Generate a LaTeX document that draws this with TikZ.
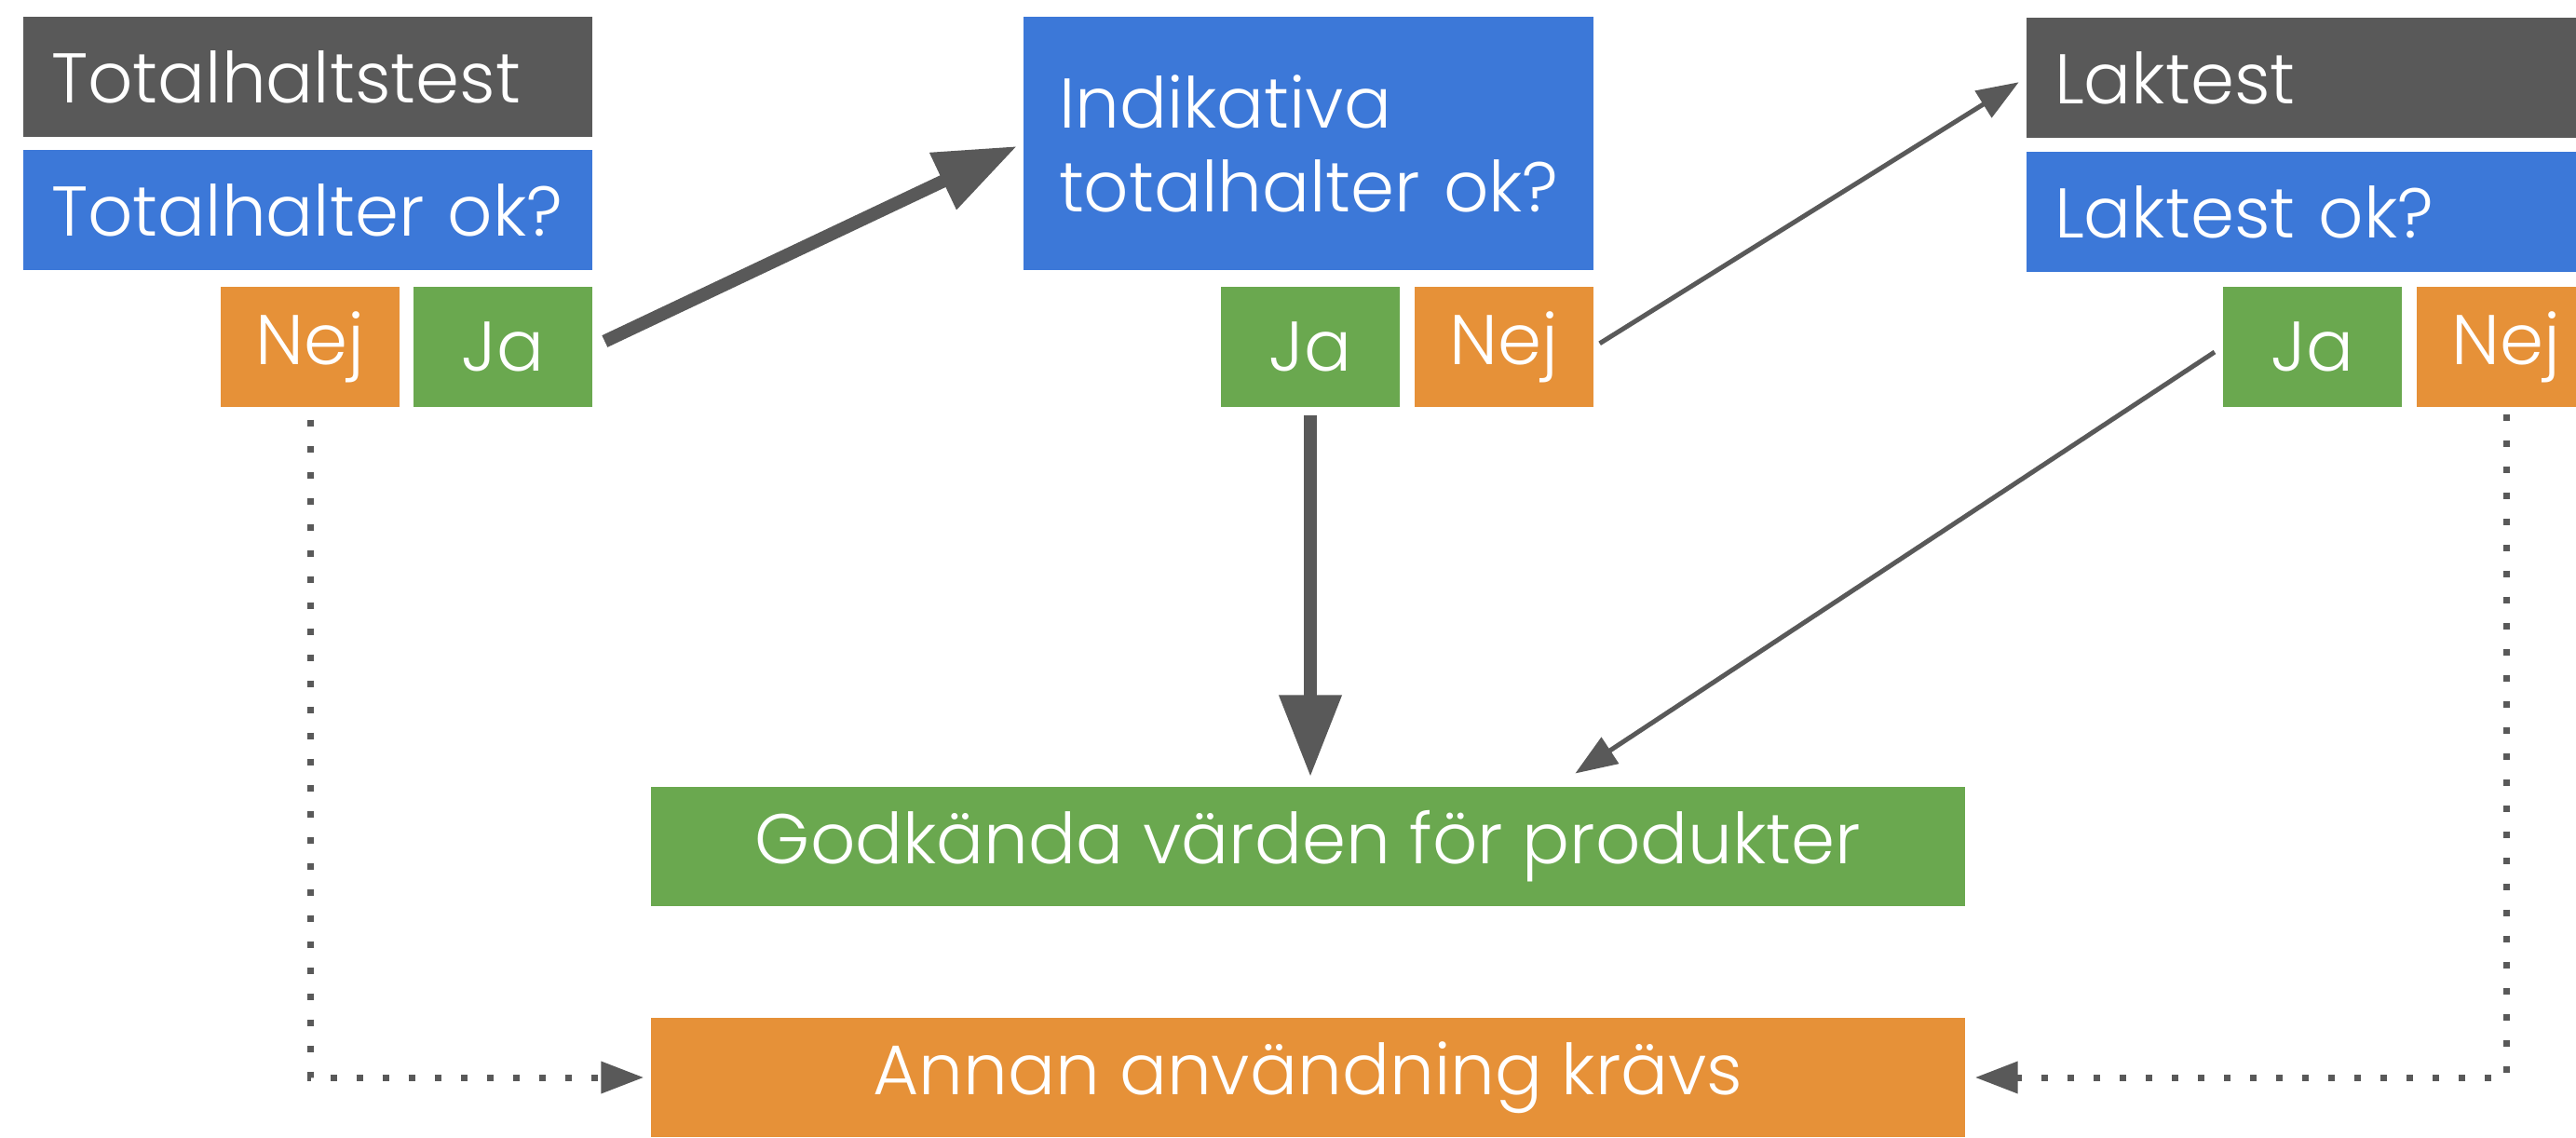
\documentclass[tikz,border=0pt]{standalone}
\usepackage{fontspec}
\setmainfont{Poppins}[UprightFont=* Light]
\usetikzlibrary{arrows.meta}

\definecolor{mork}{HTML}{595959}
\definecolor{bla}{HTML}{3C78D8}
\definecolor{ora}{HTML}{E69138}
\definecolor{gron}{HTML}{6AA84F}

\begin{document}
\begin{tikzpicture}[pil/.style={-{Triangle[length=0.45cm, width=0.33cm]}, line width=0.05cm, draw=mork},
        tjock/.style={-{Triangle[length=0.88cm, width=0.64cm]}, line width=0.14cm, draw=mork},
        prickad/.style={-{Triangle[length=0.46cm, width=0.33cm]}, line width=0.07cm, draw=mork, dash pattern=on 0.07cm off 0.21cm}]
        \tikzset{ruta/.style={rectangle, minimum height=1.29cm, text width=5.51cm, inner xsep=0.3cm, inner ysep=0pt, align=left, text=white, font=\fontsize{21.5}{25.6}\selectfont}};
        \tikzset{svar/.style={rectangle, minimum height=1.29cm, minimum width=1.92cm, inner sep=0pt, text=white, font=\fontsize{21.5}{25.6}\selectfont}};
        \tikzset{bred/.style={rectangle, minimum height=1.28cm, minimum width=14.11cm, inner sep=0pt, text=white, font=\fontsize{21.5}{25.6}\selectfont}};

        \useasboundingbox (0, 0) rectangle (27.66, 12.21);

        % vänster
        \node[ruta, fill=mork] (tt) at (3.305, 11.385) {Totalhaltstest};
        \node[ruta, fill=bla] (tok) at (3.305, 9.95) {Totalhalter~ok?};
        \node[svar, fill=ora] (nej1) at (3.33, 8.485) {Nej};
        \node[svar, fill=gron] (ja1) at (5.40, 8.485) {Ja};

        % mitten
        \node[ruta, fill=bla, minimum height=2.72cm, text width=5.36cm, inner xsep=0.38cm] (ind) at (14.05, 10.67) {Indikativa\\totalhalter~ok?};
        \node[svar, fill=gron] (ja2) at (14.07, 8.485) {Ja};
        \node[svar, fill=ora] (nej2) at (16.15, 8.485) {Nej};

        % höger
        \node[ruta, fill=mork] (lak) at (24.815, 11.375) {Laktest};
        \node[ruta, fill=bla] (lok) at (24.815, 9.935) {Laktest~ok?};
        \node[svar, fill=gron] (ja3) at (24.83, 8.485) {Ja};
        \node[svar, fill=ora] (nej3) at (26.91, 8.485) {Nej};

        % resultat
        \node[bred, fill=gron] (god) at (14.045, 3.12) {Godkända värden för produkter};
        \node[bred, fill=ora] (ann) at (14.045, 0.64) {Annan användning krävs};

        \draw[tjock, shorten <=0.14cm, shorten >=0.07cm] (ja1.east) -- (ind.west);
        \draw[pil, shorten <=0.07cm, shorten >=0.09cm] (nej2.east) -- (lak.west);
        \draw[tjock, shorten <=0.08cm, shorten >=0.1cm] (ja2.south) -- (ja2.south |- god.north);
        \draw[pil, shorten <=0.1cm, shorten >=0.25cm] (ja3.west) -- ([xshift=2.66cm]god.north);
        \draw[prickad, shorten <=0.13cm, shorten >=0.07cm] (nej1.south) |- (ann.west);
        \draw[prickad, shorten <=0.07cm, shorten >=0.1cm] (nej3.south) |- (ann.east);
    \end{tikzpicture}
\end{document}
